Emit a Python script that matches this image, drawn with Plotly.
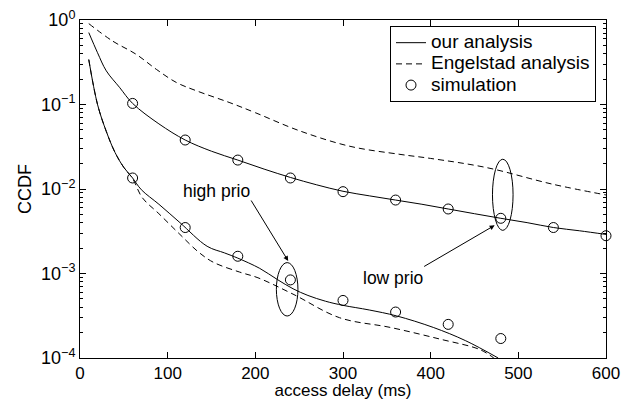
import plotly.graph_objects as go

# Low priority - our analysis (solid)
low_x = [10, 20, 30, 45, 60, 90, 120, 150, 180, 210, 240, 270, 300, 330, 360, 390, 420, 450, 480, 510, 540, 570, 600]
low_y = [0.71, 0.41, 0.25, 0.16, 0.103, 0.059, 0.038, 0.028, 0.022, 0.0172, 0.0137, 0.0112, 0.0094, 0.0083,
         0.0074, 0.0066, 0.0058, 0.0051, 0.0045, 0.0040, 0.0035, 0.0032, 0.0029]

# Low priority - Engelstad analysis (dashed)
eng_low_x = [10, 37, 64, 87, 110, 133, 171, 200, 250, 308, 365, 400, 464, 539, 600]
eng_low_y = [0.906, 0.565, 0.393, 0.261, 0.182, 0.145, 0.105, 0.08, 0.049, 0.032, 0.0257, 0.023, 0.0179, 0.0114, 0.0085]

# High priority - our analysis (solid)
high_x = [10, 20, 30, 40, 50, 60, 70, 90, 114, 145, 165, 180, 205, 225, 243, 260, 280, 300, 330, 361, 403, 440, 477]
high_y = [0.34, 0.10, 0.048, 0.027, 0.018, 0.0135, 0.0098, 0.0066, 0.004, 0.0021, 0.00175, 0.00152, 0.00115,
          0.00085, 0.00066, 0.00055, 0.00047, 0.00042, 0.00037, 0.000315, 0.00023, 0.00016, 0.0001]

# High priority - Engelstad analysis (dashed)
eng_high_x = [10, 20, 30, 40, 50, 60, 71, 90, 114, 135, 152, 182, 203, 243, 296, 354, 411, 456, 472]
eng_high_y = [0.34, 0.10, 0.048, 0.027, 0.018, 0.0133, 0.0079, 0.0051, 0.0029, 0.0018, 0.00136, 0.00104, 0.00089,
              0.00057, 0.0003, 0.00023, 0.000167, 0.000126, 0.0001]

# Simulation points
sim_low_x = [60, 120, 180, 240, 300, 360, 420, 480, 540, 600]
sim_low_y = [0.103, 0.038, 0.022, 0.0135, 0.0093, 0.0074, 0.0058, 0.0045, 0.0035, 0.0028]
sim_high_x = [60, 120, 180, 240, 300, 360, 420, 480]
sim_high_y = [0.0135, 0.0035, 0.0016, 0.00084, 0.00048, 0.00035, 0.00025, 0.00017]

legend_names = ["our analysis", "Engelstad analysis", "simulation"]
y_tickvals = [1e-4, 1e-3, 1e-2, 1e-1, 1]
y_ticktext = ["10<sup>\u22124</sup>", "10<sup>\u22123</sup>", "10<sup>\u22122</sup>", "10<sup>\u22121</sup>", "10<sup>0</sup>"]
x_tickvals = [0, 100, 200, 300, 400, 500, 600]
minor_vals = [m * 10 ** e for e in range(-4, 0) for m in range(2, 10)]

FONT = "Liberation Sans, Arial, Helvetica, sans-serif"
fig = go.Figure()

line = dict(color="black", width=1)
dline = dict(color="black", width=1, dash="6px,4px")


def lname(s):
    return "<span style='font-size:19px'>" + s + "</span>"


fig.add_trace(go.Scatter(x=low_x, y=low_y, mode="lines", line=line, name=lname(legend_names[0]), line_shape="spline"))
fig.add_trace(go.Scatter(x=eng_low_x, y=eng_low_y, mode="lines", line=dline, name=lname(legend_names[1]), line_shape="spline"))
fig.add_trace(go.Scatter(x=sim_low_x, y=sim_low_y, mode="markers", name=lname(legend_names[2]), cliponaxis=False,
                         marker=dict(symbol="circle-open", size=10, color="black", line=dict(width=1))))
fig.add_trace(go.Scatter(x=high_x, y=high_y, mode="lines", line=line, showlegend=False, line_shape="spline"))
fig.add_trace(go.Scatter(x=eng_high_x, y=eng_high_y, mode="lines", line=dline, showlegend=False, line_shape="spline"))
fig.add_trace(go.Scatter(x=sim_high_x, y=sim_high_y, mode="markers", showlegend=False, cliponaxis=False,
                         marker=dict(symbol="circle-open", size=10, color="black", line=dict(width=1))))

# ellipses
fig.add_shape(type="circle", xref="x", yref="y", x0=224, x1=248.6, y0=0.000314, y1=0.001346,
              line=dict(color="black", width=1))
fig.add_shape(type="circle", xref="x", yref="y", x0=470.5, x1=494, y0=0.00324, y1=0.0225,
              line=dict(color="black", width=1))

# annotations
fig.add_annotation(x=155.9, y=-2.024, text="high prio", showarrow=False, font=dict(size=17.5, color="black", family=FONT))
fig.add_annotation(x=357, y=-3.049, text="low prio", showarrow=False, font=dict(size=17.5, color="black", family=FONT))
fig.add_annotation(x=237.5, y=-2.852, text="", showarrow=True, ax=-38, ay=-62, arrowhead=2, arrowsize=1,
                   arrowwidth=1, arrowcolor="black")
fig.add_annotation(x=473, y=-2.43, text="", showarrow=True, ax=-72, ay=42, arrowhead=2, arrowsize=1,
                   arrowwidth=1, arrowcolor="black")

fig.update_layout(
    template="none",
    width=626, height=400,
    margin=dict(l=80, r=20, t=20, b=42),
    paper_bgcolor="white", plot_bgcolor="white",
    font=dict(family=FONT, size=18, color="black"),
    showlegend=True,
    legend=dict(x=0.981, y=0.982, xanchor="right", yanchor="top", bgcolor="white",
                bordercolor="black", borderwidth=1, font=dict(size=14, family=FONT),
                tracegroupgap=0, itemwidth=30),
    xaxis=dict(range=[0, 600], tickmode="array", tickvals=x_tickvals, ticks="inside", ticklen=6,
               tickcolor="black", tickwidth=1,
               showline=True, linecolor="black", linewidth=1, mirror="allticks", showgrid=False, zeroline=False,
               automargin=False,
               title=dict(text="access delay (ms)", standoff=0, font=dict(size=17)),
               tickfont=dict(size=17)),
    yaxis=dict(type="log", range=[-4, 0], tickmode="array", tickvals=y_tickvals, ticktext=y_ticktext,
               ticks="inside", ticklen=6, tickcolor="black", tickwidth=1,
               showline=True, linecolor="black", linewidth=1, mirror="allticks",
               showgrid=False, zeroline=False, automargin=False,
               minor=dict(tickmode="array", tickvals=minor_vals, ticks="inside", ticklen=3,
                          tickcolor="black", tickwidth=1, showgrid=False),
               title=dict(text="CCDF", standoff=4, font=dict(size=18)),
               tickfont=dict(size=18)),
)

fig.write_html("out.html")
